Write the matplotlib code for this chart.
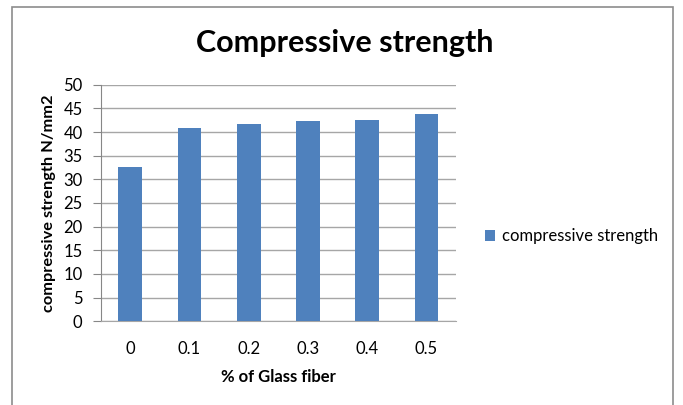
import matplotlib
matplotlib.use("Agg")
import matplotlib.pyplot as plt
from matplotlib.patches import Rectangle

categories = ["0", "0.1", "0.2", "0.3", "0.4", "0.5"]
strength = [32.7, 40.8, 41.6, 42.3, 42.5, 43.8]
yticks = [0, 5, 10, 15, 20, 25, 30, 35, 40, 45, 50]

plt.rcParams["font.family"] = ["Lato", "DejaVu Sans"]

fig = plt.figure(figsize=(6.83, 4.05), dpi=100)
ax = fig.add_axes([0.1474, 0.2067, 0.5202, 0.5842])

bar_color = "#4F81BD"
grid_color = "#A6A6A6"

x = range(len(categories))
ax.bar(x, strength, width=0.4, color=bar_color, zorder=3,
       label="compressive strength")

ax.set_xlim(-0.5, len(categories) - 0.5)
ax.set_ylim(0, 50)
ax.set_yticks(yticks)
ax.set_xticks(list(x))
ax.set_xticklabels(categories)

ax.yaxis.grid(True, color=grid_color, linewidth=1.0, zorder=0)
ax.set_axisbelow(True)
for side in ("top", "right"):
    ax.spines[side].set_visible(False)
ax.spines["left"].set_color("#878787")
ax.spines["bottom"].set_color(grid_color)
ax.tick_params(axis="y", length=6, color="#878787", labelsize=12,
               labelcolor="#000000", pad=7)
ax.tick_params(axis="x", length=0, labelsize=12, labelcolor="#000000", pad=14)

ax.set_xlabel("% of Glass fiber", fontsize=12, fontweight="bold", labelpad=9)
ax.set_ylabel("compressive strength N/mm2", fontsize=11.8, fontweight="bold",
              labelpad=5)

fig.text(0.505, 0.895, "Compressive strength", ha="center", va="center",
         fontsize=22, fontweight="bold")

leg = ax.legend(loc="center left", bbox_to_anchor=(1.04, 0.36), frameon=False,
                fontsize=12, handlelength=0.6, handleheight=0.6,
                handletextpad=0.4)

# outer chart border
fig.patches.append(Rectangle((12 / 683, -0.02), 661 / 683, 1 - 7 / 405 + 0.02,
                             transform=fig.transFigure, fill=False,
                             edgecolor="#8C8C8C", linewidth=1.2))

fig.savefig("out.png", dpi=100)
